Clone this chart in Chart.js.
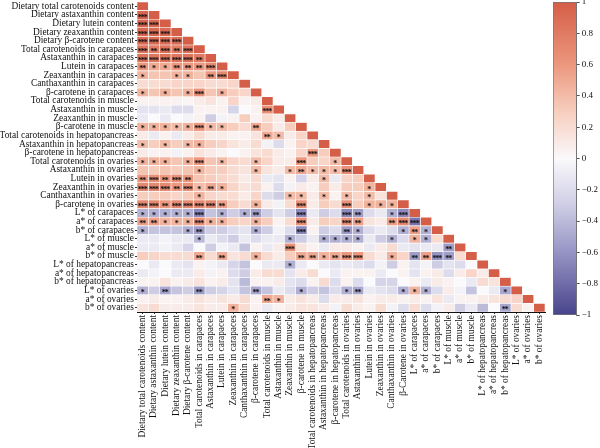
<!DOCTYPE html>
<html lang="en">
<head>
<meta charset="UTF-8">
<title>Carotenoid correlation heatmap</title>
<script src="https://cdn.jsdelivr.net/npm/chart.js@4.4.1/dist/chart.umd.min.js"></script>
<style>
  body { margin: 0; background: #fff; }
  #wrap { position: relative; width: 600px; height: 448px; }
  #heat { position: absolute; left: 0; top: 0; }
  #bar { position: absolute; left: 545px; top: 0; }
</style>
</head>
<body>
<div id="wrap">
  <canvas id="heat" width="600" height="448"></canvas>
  <canvas id="bar" width="55" height="448"></canvas>
</div>
<script>
// row labels (y axis), column labels (x axis)
const rowNames = ['Dietary total carotenoids content','Dietary astaxanthin content','Dietary lutein content','Dietary zeaxanthin content','Dietary β-carotene content','Total carotenoids in carapaces','Astaxanthin in carapaces','Lutein in carapaces','Zeaxanthin in carapaces','Canthaxanthin in carapaces','β-carotene in carapaces','Total carotenoids in muscle','Astaxanthin in muscle','Zeaxanthin in muscle','β-carotene in muscle','Total carotenoids in hepatopancreas','Astaxanthin in hepatopancreas','β-carotene in hepatopancreas','Total carotenoids in ovaries','Astaxanthin in ovaries','Lutein in ovaries','Zeaxanthin in ovaries','Canthaxanthin in ovaries','β-carotene in ovaries','L* of carapaces','a* of carapaces','b* of carapaces','L* of muscle','a* of muscle','b* of muscle','L* of hepatopancreas','a* of hepatopancreas','b* of hepatopancreas','L* of ovaries','a* of ovaries','b* of ovaries'];
const colNames = rowNames.map(n => n === 'β-carotene in ovaries' ? 'β-Carotene in ovaries' : n);

// lower triangle of the correlation matrix, row by row
const corrRows = [
  [1],
  [0.95,1],
  [0.95,0.93,1],
  [0.93,0.92,0.92,1],
  [0.92,0.9,0.9,0.9,1],
  [0.85,0.8,0.85,0.8,0.85,1],
  [0.85,0.83,0.85,0.83,0.85,0.8,1],
  [0.6,0.5,0.5,0.6,0.6,0.6,0.7,1],
  [0.45,0.35,0.35,0.45,0.45,0.35,0.6,0.7,1],
  [0.2,0.2,0.2,0.25,0.25,0.25,0.2,0.2,0.25,1],
  [0.45,0.35,0.45,0.35,0.45,0.65,0.35,0.45,0.3,0.25,1],
  [0.05,0.05,0.05,0.05,0.03,0.1,0.15,0.05,0.25,0.05,0.1,1],
  [-0.15,-0.15,-0.1,-0.2,-0.2,0.05,0.05,0.05,-0.25,0,0.05,0.65,1],
  [-0.1,0,-0.1,0,-0.05,0.05,-0.3,-0.05,0.05,0.3,0.05,0.2,0.1,1],
  [0.45,0.45,0.45,0.4,0.45,0.6,0.4,0.4,0.3,0.2,0.5,0.3,0.1,0.3,1],
  [0.1,-0.1,0.05,-0.1,0.1,0.2,0.1,0.1,0.05,0.05,0.15,0.5,0.4,0.1,0.25,1],
  [0.4,0.3,0.4,0.3,0.4,0.45,0.3,0.25,0.15,0.1,0.2,-0.05,-0.2,0.05,0.25,0.2,1],
  [0.1,0.05,0.05,-0.05,0.05,0.15,0.1,0.05,0,0.05,0.15,0.2,0.1,0.05,0.25,0.6,0.3,1],
  [0.45,0.45,0.45,0.35,0.45,0.6,0.35,0.4,0.25,0.2,0.4,0.25,0.1,0.1,0.6,0.3,0.25,0.4,1],
  [0.35,0.3,0.35,0.3,0.35,0.45,0.3,0.3,0.2,0.15,0.4,0.15,0.1,0.4,0.5,0.4,0.4,0.4,0.65,1],
  [0.6,0.65,0.6,0.65,0.6,0.35,0.3,0.25,0.2,0.1,0.2,-0.1,-0.15,0.05,-0.25,0.1,0.4,-0.1,0.25,0.3,1],
  [0.7,0.7,0.7,0.6,0.65,0.4,0.5,0.45,0.25,0.15,0.2,0.05,-0.2,-0.05,0.1,0.05,0.3,0.1,0.3,0.3,0.45,1],
  [0.3,0.3,0.3,0.25,0.3,0.45,0.25,0.2,0.2,0.1,0.25,-0.2,-0.3,0.4,0.4,0.1,0.4,0.05,0.4,0.25,0.4,0.15,1],
  [0.7,0.7,0.6,0.7,0.7,0.7,0.7,0.55,0.3,0.2,0.45,0.1,-0.05,0.2,0.65,0.1,0.3,0.2,0.65,0.3,0.45,0.45,0.45,1],
  [-0.45,-0.45,-0.45,-0.45,-0.45,-0.65,-0.35,-0.45,-0.3,-0.45,-0.55,-0.3,-0.15,-0.3,-0.65,-0.1,-0.3,-0.2,-0.65,-0.55,-0.2,-0.1,-0.45,-0.65,1],
  [0.55,0.55,0.45,0.45,0.45,0.65,0.45,0.45,0.3,0.25,0.45,0.3,0.05,0.2,0.65,0.1,0.3,0.25,0.65,0.55,0.15,0.1,0.55,0.7,-0.75,1],
  [-0.45,-0.35,-0.35,-0.35,-0.45,-0.55,-0.3,-0.3,-0.2,-0.15,-0.45,-0.3,-0.05,-0.2,-0.65,0.05,-0.3,-0.2,-0.55,-0.45,-0.2,-0.1,-0.2,-0.45,0.55,-0.45,1],
  [-0.1,-0.1,-0.05,-0.1,-0.1,-0.4,-0.1,-0.2,-0.3,-0.1,-0.2,-0.1,-0.1,-0.45,-0.3,-0.1,-0.45,-0.45,-0.45,-0.45,-0.1,-0.3,-0.45,-0.2,0.45,-0.45,0.2,1],
  [-0.1,-0.1,-0.05,-0.1,-0.25,0,-0.3,-0.05,-0.1,-0.35,0.05,-0.1,0.1,0.65,0.15,0.05,-0.1,0.1,0.1,0.05,-0.1,0.1,0.2,-0.1,-0.15,-0.1,-0.1,-0.55,1],
  [0.3,0.25,0.2,0.2,0.2,0.5,0.2,0.5,0.15,0.2,0.45,0.2,0.1,0.3,0.5,0.5,0.45,0.5,0.6,0.6,0.2,0.1,0.45,0.25,-0.55,0.55,-0.6,-0.55,0.2,1],
  [0,-0.1,0,-0.1,-0.15,0.05,-0.05,-0.1,-0.25,-0.35,0,-0.1,-0.1,-0.45,-0.1,0,-0.1,-0.15,-0.1,-0.15,-0.2,-0.05,-0.3,0.05,-0.15,-0.05,-0.3,-0.15,-0.2,0,1],
  [-0.1,-0.05,0,-0.1,-0.1,0.1,-0.05,0.05,-0.2,-0.3,0.1,0.2,0.2,-0.15,0.1,0.2,0,-0.1,0.05,0.05,0.05,-0.1,0,0.05,-0.15,0.05,0.1,-0.2,0.1,0.25,0.1,1],
  [0.05,0.05,0.15,0.05,0.1,0.15,0.05,0.1,-0.15,-0.4,0.05,0.05,0.1,-0.15,-0.2,0.05,0.2,-0.2,0.05,-0.2,0,-0.25,-0.25,0,0.05,-0.1,0.1,0.05,0,-0.1,0.2,0.15,1],
  [-0.45,-0.3,-0.5,-0.35,-0.3,-0.55,-0.3,-0.25,-0.15,-0.35,-0.5,-0.35,-0.1,-0.2,-0.45,-0.3,-0.35,-0.2,-0.45,-0.5,-0.1,-0.15,-0.2,-0.45,0.45,-0.45,-0.2,0.1,-0.05,-0.35,0,-0.1,-0.5,1],
  [0.05,0.1,0.05,0.05,0.1,0.15,0.1,0.15,0.1,0.2,0.05,0.5,0.45,0.1,0.15,0.1,-0.2,0.1,0.1,0.15,0.05,0.1,0.1,0.05,0.1,0.05,0.15,-0.1,0.05,0.05,0.1,0.15,0.2,0.25,1],
  [0.15,0.2,0.1,0.1,0.1,0.15,0.1,0.1,0.45,0.2,0.05,-0.1,0.05,0.1,0.15,0.15,0.1,-0.05,0.2,0.1,0.05,0.2,-0.05,-0.2,0.2,-0.2,-0.05,0.1,-0.3,-0.1,-0.4,0,-0.5,0.2,0.05,1]
];

// significance stars per cell (digit = number of *), missing digits = none
const starRows = [
  '0','30','330','3330','33330','323230','3333320','21122230','100110230','0',
  '10101301000','0','0000000000030','0','111113110020000','0000000000021000',
  '10101100000000000','000000000000000300','1110130100100030010','00000100001001211130',
  '232320000000000010000','3332312100000000000010','00000100000001101010100',
  '332333320010003000301110','1111130101200030003200130','22111311001000300032002330',
  '100012000010003000210001210','0000010000000100111100101100',
  '00000000000003000000000000020','000002020010002212330010223200',
  '00000000000001','0','0','1020020000200010001200011100000010',
  '0000000000021','000000001000000000000000000000002'
];

const cbTicks = [1,0.8,0.6,0.4,0.2,0,-0.2,-0.4,-0.6,-0.8,-1];

// diverging palette stops (value, rgb)
const palette = [
  [-1,[72,68,140]],[-0.6,[150,148,196]],[-0.3,[206,205,228]],[0,[250,249,251]],
  [0.3,[247,206,190]],[0.6,[236,151,126]],[1,[213,94,72]]
];

function corrColor(v) {
  if (v === undefined || v === null) return 'rgba(0,0,0,0)';
  for (let k = 1; k < palette.length; k++) {
    const [v0, c0] = palette[k - 1], [v1, c1] = palette[k];
    if (v <= v1) {
      const t = (v - v0) / (v1 - v0);
      const c = c0.map((x, n) => Math.round(x + (c1[n] - x) * t));
      return `rgb(${c[0]},${c[1]},${c[2]})`;
    }
  }
  return 'rgb(213,94,72)';
}

const FONT = "'Liberation Serif', 'Times New Roman', serif";

// stars drawn in the middle of each bar element
const sigPlugin = {
  id: 'sig',
  afterDatasetsDraw(chart) {
    const ctx = chart.ctx;
    ctx.save();
    ctx.fillStyle = '#111';
    ctx.font = 'bold 8px ' + FONT;
    ctx.textAlign = 'center';
    ctx.textBaseline = 'alphabetic';
    chart.data.datasets.forEach((ds, j) => {
      const meta = chart.getDatasetMeta(j);
      meta.data.forEach((bar, i) => {
        if (i < j) return;
        const s = starRows[i].padEnd(i + 1, '0');
        const n = +s[j] || 0;
        if (!n) return;
        const cx = (bar.x + bar.base) / 2;
        for (let k = 0; k < n; k++) {
          ctx.fillText('*', cx + (k - (n - 1) / 2) * 3, bar.y + 4.6);
        }
      });
    });
    ctx.restore();
  }
};

const datasets = colNames.map((name, j) => ({
  label: name,
  data: rowNames.map((_, i) => (i >= j ? 1 : null)),
  backgroundColor: c => corrColor(corrRows[c.dataIndex] ? corrRows[c.dataIndex][j] : undefined),
  borderColor: '#ffffff',
  borderWidth: 0.6,
  borderSkipped: false,
  barPercentage: 1,
  categoryPercentage: 1
}));

new Chart(document.getElementById('heat').getContext('2d'), {
  type: 'bar',
  data: { labels: rowNames, datasets: datasets },
  options: {
    indexAxis: 'y',
    responsive: false,
    animation: false,
    layout: { padding: { top: 2, right: 55, left: 0, bottom: 0 } },
    plugins: { legend: { display: false }, tooltip: { enabled: false } },
    scales: {
      x: {
        type: 'linear',
        stacked: true,
        min: 0,
        max: 36,
        afterBuildTicks: axis => { axis.ticks = colNames.map((_, j) => ({ value: j + 0.5 })); },
        afterFit: axis => { axis.height = 136; axis.paddingLeft = 0; axis.paddingRight = 0; },
        ticks: {
          autoSkip: false,
          minRotation: 90,
          maxRotation: 90,
          padding: 1,
          color: '#111',
          font: { family: FONT, size: 9.4 },
          callback: (v, idx) => colNames[idx]
        },
        grid: { drawOnChartArea: false, drawTicks: true, tickLength: 2, color: '#333' },
        border: { display: true, color: '#111', width: 1 }
      },
      y: {
        stacked: true,
        afterFit: axis => { axis.width = 137; axis.paddingTop = 0; axis.paddingBottom = 0; },
        ticks: {
          autoSkip: false,
          padding: 1,
          color: '#111',
          font: { family: FONT, size: 9.4 }
        },
        grid: { drawOnChartArea: false, drawTicks: true, tickLength: 2, color: '#333', offset: false },
        border: { display: true, color: '#111', width: 1 }
      }
    }
  },
  plugins: [sigPlugin]
});

// colour bar: one floating bar from -1 to 1 with a gradient fill
function barGradient(c) {
  const chart = c.chart;
  const ys = chart.scales.y;
  if (!ys || !chart.chartArea) return '#ffffff';
  const top = ys.getPixelForValue(1), bot = ys.getPixelForValue(-1);
  if (!isFinite(top) || !isFinite(bot) || top === bot) return '#ffffff';
  const g = chart.ctx.createLinearGradient(0, top, 0, bot);
  palette.forEach(([v]) => g.addColorStop((1 - v) / 2, corrColor(v)));
  return g;
}

new Chart(document.getElementById('bar').getContext('2d'), {
  type: 'bar',
  data: {
    labels: [''],
    datasets: [{
      data: [[-1, 1]],
      backgroundColor: barGradient,
      borderColor: '#777',
      borderWidth: 1,
      borderSkipped: false,
      barPercentage: 1,
      categoryPercentage: 1
    }]
  },
  options: {
    responsive: false,
    animation: false,
    layout: { padding: { top: 2, bottom: 133, left: 8, right: 0 } },
    plugins: { legend: { display: false }, tooltip: { enabled: false } },
    scales: {
      x: { display: false },
      y: {
        position: 'right',
        min: -1,
        max: 1,
        afterBuildTicks: axis => { axis.ticks = cbTicks.map(v => ({ value: v })); },
        afterFit: axis => { axis.paddingTop = 0; axis.paddingBottom = 0; },
        ticks: {
          padding: 2,
          color: '#111',
          font: { family: FONT, size: 9 },
          callback: v => (v < 0 ? '\u2212' : '') + String(Math.abs(Number(v.toFixed(1))))
        },
        grid: { drawOnChartArea: false, drawTicks: true, tickLength: 3, color: '#555' },
        border: { display: true, color: '#777' }
      }
    }
  }
});
</script>
</body>
</html>
